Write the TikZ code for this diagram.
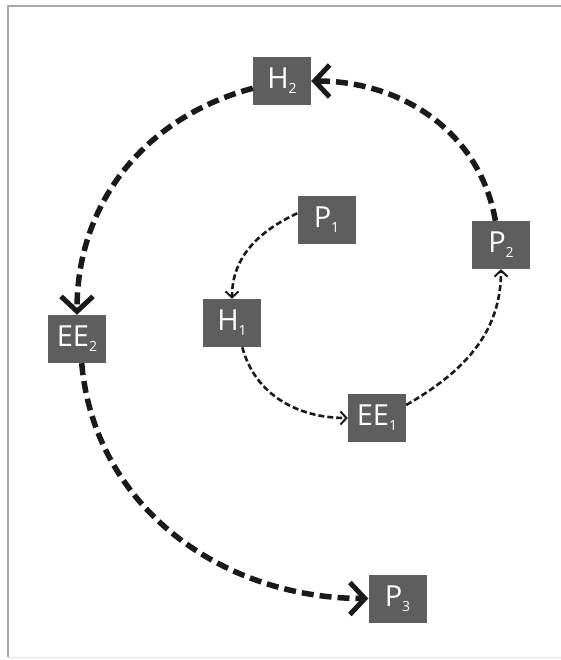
\documentclass[tikz,border=0pt]{standalone}
\usepackage{fontspec}
\usetikzlibrary{arrows.meta}
\newfontfamily\stagefont{Open Sans}
\definecolor{boxgray}{HTML}{5E5E5E}
\definecolor{linkblack}{HTML}{1A1A1A}
\definecolor{framegray}{HTML}{A8A8A8}
\definecolor{framelight}{HTML}{E4E4E4}
\newcommand\stagesub[1]{\raisebox{-5pt}{\fontsize{14}{14}\selectfont #1}}
\tikzset{
    stage/.style={fill=boxgray, text=white, minimum width=58pt, minimum height=48pt,
        inner sep=0pt, font=\stagefont\fontsize{29}{29}\selectfont},
    inner link/.style={linkblack, line width=2.6pt, dash pattern=on 6pt off 3pt,
        -{Straight Barb[length=6pt,width=13pt,line width=2pt]}},
    outer link/.style={linkblack, line width=5.5pt, dash pattern=on 12pt off 6pt,
        -{Straight Barb[length=15pt,width=32pt,line width=5pt]}},
}
\begin{document}
\begin{tikzpicture}[x=1pt,y=1pt]
    \useasboundingbox (0,0) rectangle (561,-660);
    \draw[framegray, line width=1.2pt] (561,-6) -- (8,-6) -- (8,-657);
    \draw[framelight] (8,-657) -- (561,-657);
    % stages
    \foreach \nm/\px/\py/\base/\idx in {P1/326.5/220/P/1, H1/232/323/H/1, EE1/377/418/EE/1,
        P2/501/245/P/2, H2/282/81/H/2, EE2/77/339/EE/2, P3/397.5/598.5/P/3} {
        \node[stage] (\nm) at (\px,-\py) {\base\stagesub{\idx}};
    }
    % first cycle
    \draw[inner link] (P1.167) to[out=205,in=90] (H1.north);
    \draw[inner link] (H1.-67) to[out=-75,in=180] (EE1.west);
    \draw[inner link] (EE1.24) to[out=30,in=-90] (P2.south);
    % second cycle
    \draw[outer link] (P2.103) to[out=100,in=0] (H2.east);
    \draw[outer link] (H2.194) to[out=195,in=90] (EE2.north);
    \draw[outer link] (EE2.-79) to[out=-85,in=180] (P3.west);
\end{tikzpicture}
\end{document}
